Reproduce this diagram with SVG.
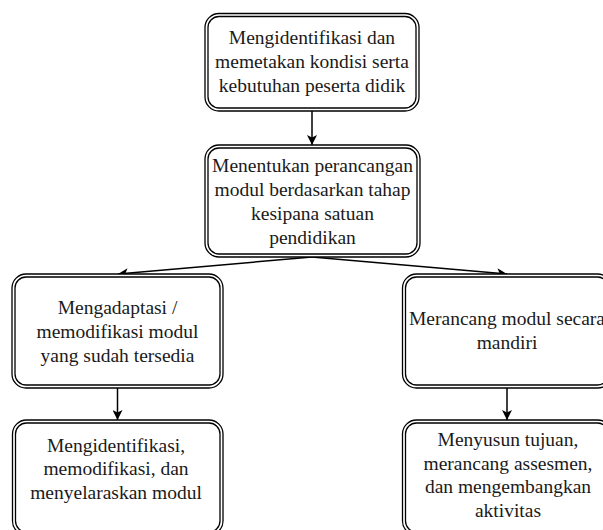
<svg xmlns="http://www.w3.org/2000/svg" width="603" height="530" viewBox="0 0 603 530">
<defs>
<style>
.o{fill:#fff;stroke:#000;stroke-width:1.3}
.i{fill:none;stroke:#000;stroke-width:1.3}
.t{font-family:"Liberation Serif","Times New Roman",serif;font-size:19.5px;fill:#1a1a1a;text-anchor:middle}
.c{fill:none;stroke:#000;stroke-width:1.5}
</style>
<marker id="ah" viewBox="0 0 10 10" refX="10" refY="5" markerWidth="10" markerHeight="10" markerUnits="userSpaceOnUse" orient="auto">
<path d="M0,0 L10,5 L0,10 L2.5,5 z" fill="#000"/>
</marker>
</defs>
<rect width="603" height="530" fill="#fff"/>
<g id="connectors">
<line class="c" x1="312" y1="111" x2="312" y2="145" marker-end="url(#ah)"/>
<line class="c" x1="312" y1="257" x2="118" y2="274" marker-end="url(#ah)"/>
<line class="c" x1="312" y1="257" x2="507" y2="274" marker-end="url(#ah)"/>
<line class="c" x1="117.5" y1="388" x2="117.5" y2="420" marker-end="url(#ah)"/>
<line class="c" x1="507" y1="388" x2="507" y2="420" marker-end="url(#ah)"/>
</g>
<g id="n1">
<rect class="o" x="205" y="13.5" width="214" height="97.5" rx="14"/>
<rect class="i" x="208" y="16.5" width="208" height="91.5" rx="11"/>
<text class="t" x="312" y="44">Mengidentifikasi dan</text>
<text class="t" x="312" y="68">memetakan kondisi serta</text>
<text class="t" x="312" y="92">kebutuhan peserta didik</text>
</g>
<g id="n2">
<rect class="o" x="205" y="145" width="215" height="112" rx="14"/>
<rect class="i" x="208" y="148" width="209" height="106" rx="11"/>
<text class="t" x="312.5" y="171.5">Menentukan perancangan</text>
<text class="t" x="312.5" y="195.5">modul berdasarkan tahap</text>
<text class="t" x="312.5" y="219.5">kesipana satuan</text>
<text class="t" x="312.5" y="243.5">pendidikan</text>
</g>
<g id="n3">
<rect class="o" x="12" y="274" width="211" height="114" rx="14"/>
<rect class="i" x="15" y="277" width="205" height="108" rx="11"/>
<text class="t" x="117.5" y="314">Mengadaptasi /</text>
<text class="t" x="117.5" y="338">memodifikasi modul</text>
<text class="t" x="117.5" y="362">yang sudah tersedia</text>
</g>
<g id="n4">
<rect class="o" x="402.5" y="274" width="209" height="114" rx="14"/>
<rect class="i" x="405.5" y="277" width="203" height="108" rx="11"/>
<text class="t" x="507" y="325">Merancang modul secara</text>
<text class="t" x="507" y="349">mandiri</text>
</g>
<g id="n5">
<rect class="o" x="12.5" y="420" width="210.5" height="115" rx="14"/>
<rect class="i" x="15.5" y="423" width="204.5" height="109" rx="11"/>
<text class="t" x="116" y="451.5">Mengidentifikasi,</text>
<text class="t" x="116" y="475">memodifikasi, dan</text>
<text class="t" x="116" y="498.5">menyelaraskan modul</text>
</g>
<g id="n6">
<rect class="o" x="402.5" y="420" width="209" height="115" rx="14"/>
<rect class="i" x="405.5" y="423" width="203" height="109" rx="11"/>
<text class="t" x="508" y="446">Menyusun tujuan,</text>
<text class="t" x="508" y="469.5">merancang assesmen,</text>
<text class="t" x="508" y="493">dan mengembangkan</text>
<text class="t" x="508" y="516.5">aktivitas</text>
</g>
</svg>
